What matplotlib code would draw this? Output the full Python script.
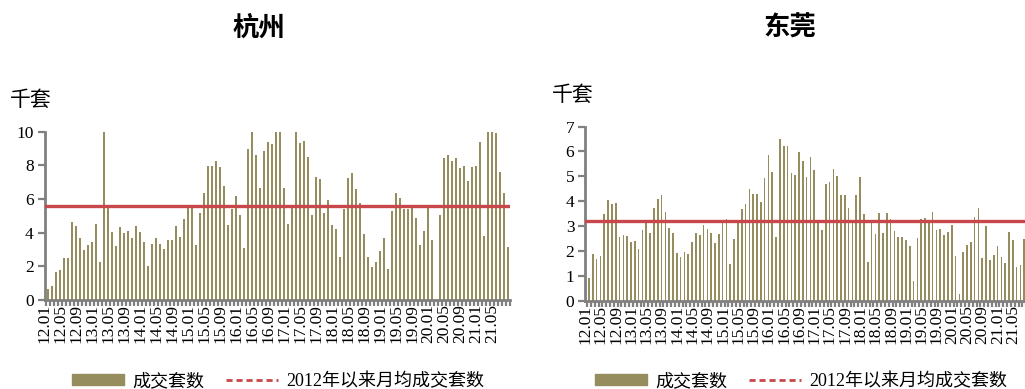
import matplotlib
matplotlib.use('Agg')
import matplotlib.pyplot as plt
from matplotlib.patches import Patch
from matplotlib.lines import Line2D
import numpy as np

plt.rcParams['font.family'] = ['Liberation Serif', 'Noto Sans CJK SC']

# monthly deals, 2012.01 - 2021.08 (thousand units)
hangzhou = [0.63, 0.83, 1.66, 1.78, 2.5, 2.47, 4.65, 4.42, 3.7, 2.97,
            3.27, 3.43, 4.53, 2.28, 10.0, 5.56, 4.02, 3.19, 4.34, 3.98,
            4.08, 3.66, 4.38, 4.02, 3.43, 2.02, 3.31, 3.7, 3.35, 3.05,
            3.54, 3.54, 4.42, 3.74, 4.81, 5.56, 5.56, 3.27, 5.19, 6.34,
            7.96, 7.96, 8.28, 7.92, 6.75, 4.46, 5.39, 6.18, 5.03, 3.11,
            8.95, 10.0, 8.63, 6.67, 8.85, 9.37, 9.25, 10.0, 10.0, 6.63,
            4.53, 5.5, 10.0, 9.33, 9.47, 8.48, 5.03, 7.29, 7.21, 5.19,
            5.94, 4.46, 4.2, 2.55, 5.39, 7.25, 7.56, 6.59, 5.74, 3.9,
            2.55, 1.94, 2.24, 2.93, 3.66, 1.82, 5.31, 6.38, 6.06, 5.39,
            5.39, 5.5, 4.87, 3.27, 4.12, 5.47, 3.58, 0.0, 5.07, 8.44,
            8.61, 8.24, 8.44, 7.82, 7.98, 7.09, 7.9, 7.98, 9.37, 3.78,
            10.0, 10.0, 9.92, 7.62, 6.34, 3.15]
dongguan = [0.92, 1.86, 1.67, 1.78, 3.5, 4.05, 3.87, 3.91, 2.56, 2.63,
            2.58, 2.35, 2.4, 2.08, 2.86, 3.24, 2.72, 3.74, 4.07, 4.25,
            3.56, 2.94, 2.71, 1.92, 1.76, 1.95, 1.86, 2.34, 2.72, 2.64,
            3.03, 2.88, 2.72, 2.32, 2.67, 3.22, 3.27, 1.46, 2.49, 3.24,
            3.67, 3.9, 4.49, 4.28, 4.28, 3.95, 4.92, 5.86, 5.17, 2.56,
            6.51, 6.22, 6.22, 5.15, 5.07, 5.97, 5.63, 4.99, 5.78, 5.27,
            3.2, 2.84, 4.7, 4.75, 5.31, 5.0, 4.23, 4.23, 3.73, 3.2,
            4.23, 4.98, 3.48, 1.57, 3.15, 2.67, 3.52, 2.72, 3.52, 3.28,
            2.8, 2.55, 2.55, 2.44, 2.19, 0.79, 2.51, 3.28, 3.31, 3.15,
            3.58, 2.83, 2.88, 2.63, 2.75, 3.06, 1.8, 0.27, 1.94, 2.22,
            2.35, 3.38, 3.74, 1.72, 3.0, 1.63, 1.83, 2.19, 1.76, 1.5,
            2.75, 2.44, 1.34, 1.42, 2.47, 2.0]
avg_hz = 5.58
avg_dg = 3.22

months = [f"{y % 100:02d}.{m:02d}" for y in range(2012, 2022) for m in range(1, 13)][:116]

bar_color = '#958d5e'
red = '#c8474b'
gray = '#808080'

fig = plt.figure(figsize=(10.25, 3.89), dpi=100)


def draw(ax, vals, avg, ymax, ystep, xlim):
    x = np.arange(len(vals))
    ax.bar(x, vals, width=0.42, color=bar_color, zorder=2)
    ax.axhline(avg, color=red, lw=2.4, zorder=3)
    ax.set_ylim(0, ymax)
    ax.set_xlim(*xlim)
    ax.set_yticks(np.arange(0, ymax + 0.1, ystep))
    ax.tick_params(axis='y', labelsize=12.5, length=5, width=1.6, color=gray, pad=3)
    lab_idx = np.arange(0, len(vals), 4)
    ax.set_xticks(lab_idx - 0.9)
    ax.set_xticklabels([months[i] for i in lab_idx], rotation=90, fontsize=12.5)
    ax.tick_params(axis='x', length=0, pad=3)
    ax.set_xticks(np.arange(-0.5, len(vals), 1), minor=True)
    ax.tick_params(axis='x', which='minor', length=4, width=1.6, color=gray)
    for s in ['top', 'right']:
        ax.spines[s].set_visible(False)
    for s in ['left', 'bottom']:
        ax.spines[s].set_color(gray)
        ax.spines[s].set_linewidth(2)


ax1 = fig.add_axes([0.0436, 0.2288, 0.4537, 0.4327])
draw(ax1, hangzhou, avg_hz, 10, 2, (-0.5, 115.5))
ax2 = fig.add_axes([0.5712, 0.227, 0.4337, 0.4478])
draw(ax2, dongguan, avg_dg, 7, 1, (-0.92, 115.5))

fig.text(259 / 1025, 1 - 28 / 389, '杭州', fontsize=19, fontweight='bold',
         ha='center', va='center', family='Noto Sans CJK SC')
fig.text(790 / 1025, 1 - 28 / 389, '东莞', fontsize=19, fontweight='bold',
         ha='center', va='center', family='Noto Sans CJK SC')
fig.text(10 / 1025, 1 - 100 / 389, '千套', fontsize=15, ha='left', va='center',
         family='Noto Sans CJK SC')
fig.text(552 / 1025, 1 - 95 / 389, '千套', fontsize=15, ha='left', va='center',
         family='Noto Sans CJK SC')

handles = [Patch(color=bar_color),
           Line2D([0], [0], color=red, lw=2, ls=(0, (2.2, 1.4)))]
labels = ['成交套数', '2012年以来月均成交套数']
for cx in [278 / 1025, 801 / 1025]:
    fig.legend(handles, labels, loc='center', bbox_to_anchor=(cx, 1 - 381 / 389),
               ncol=2, frameon=False, fontsize=13, handlelength=2.9,
               handleheight=0.6, handletextpad=0.45, columnspacing=1.2,
               borderaxespad=0, borderpad=0)

fig.savefig('out.png', dpi=100)
